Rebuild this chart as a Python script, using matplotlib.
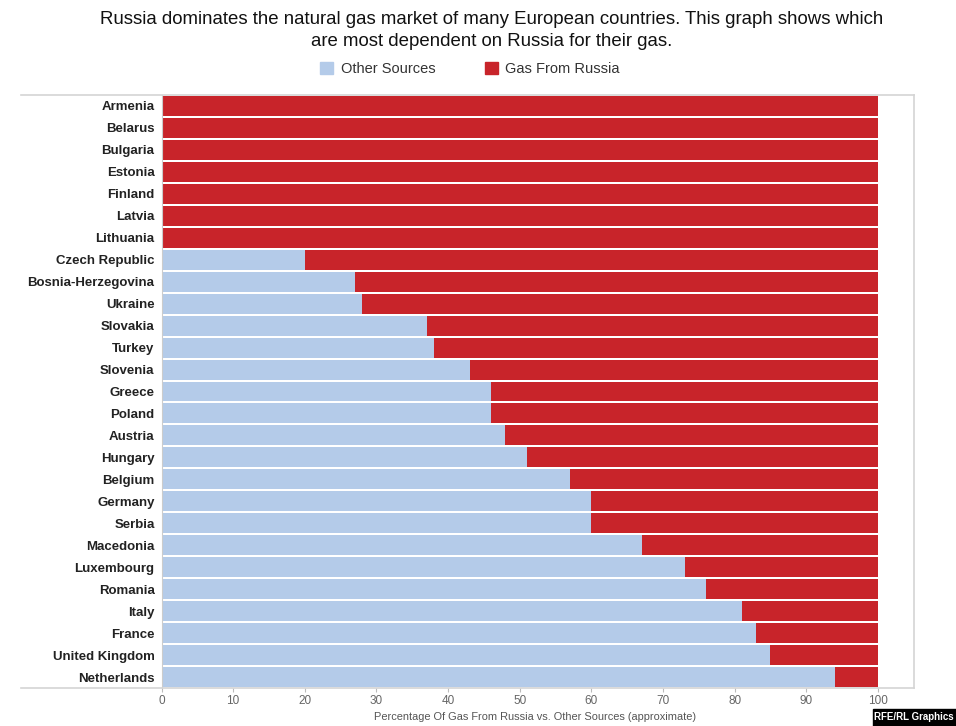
import matplotlib
matplotlib.use("Agg")
import matplotlib.pyplot as plt
from matplotlib.patches import Patch, Rectangle
from matplotlib.lines import Line2D

plt.rcParams['font.family'] = ['Liberation Sans', 'DejaVu Sans']

# data: share of gas from sources other than Russia (%), rest comes from Russia
countries = ["Armenia", "Belarus", "Bulgaria", "Estonia", "Finland", "Latvia",
             "Lithuania", "Czech Republic", "Bosnia-Herzegovina", "Ukraine",
             "Slovakia", "Turkey", "Slovenia", "Greece", "Poland", "Austria",
             "Hungary", "Belgium", "Germany", "Serbia", "Macedonia",
             "Luxembourg", "Romania", "Italy", "France", "United Kingdom",
             "Netherlands"]
other = [0, 0, 0, 0, 0, 0, 0, 20, 27, 28, 37, 38, 43, 46, 46, 48, 51, 57,
         60, 60, 67, 73, 76, 81, 83, 85, 94]
russia = [100 - v for v in other]

c_other = "#b4cbe9"
c_russia = "#c8242a"
W, H = 956, 726

fig = plt.figure(figsize=(W / 100, H / 100), dpi=100)
ax = fig.add_axes([161.5 / W, 1 - 688 / H, (914 - 161.5) / W, (688 - 95) / H])

y = list(range(len(countries)))
ax.barh(y, other, height=0.91, color=c_other, linewidth=0)
ax.barh(y, russia, left=other, height=0.91, color=c_russia, linewidth=0)

ax.set_ylim(len(countries) - 0.5, -0.5)
ax.set_xlim(0, 105.03)
ax.set_yticks(y)
ax.set_yticklabels(countries, fontsize=9.5, fontweight="bold", color="#222222")
ax.tick_params(axis="y", length=0, pad=5)
ax.set_xticks(range(0, 101, 10))
ax.tick_params(axis="x", length=3, width=0.8, color="#bbbbbb", labelsize=8.5,
               labelcolor="#666666", pad=2)
for lab in ax.get_xticklabels():
    lab.set_family(["Liberation Sans Narrow", "Liberation Sans"])

for s in ["top", "bottom"]:
    ax.spines[s].set_visible(False)
ax.spines["left"].set_color("#cccccc")
ax.spines["left"].set_linewidth(0.8)
ax.spines["right"].set_color("#d4d4d4")
ax.spines["right"].set_linewidth(1.2)

# frame lines extending under the labels
fig.add_artist(Line2D([21 / W, 914 / W], [1 - 95 / H, 1 - 95 / H],
                      color="#d4d4d4", lw=1.2))
fig.add_artist(Line2D([21 / W, 914 / W], [1 - 688 / H, 1 - 688 / H],
                      color="#d4d4d4", lw=1.2))

fig.text(492 / W, 1 - 20 / H,
         "Russia dominates the natural gas market of many European countries. This graph shows which",
         ha="center", va="center", fontsize=13.4, color="#111111")
fig.text(492 / W, 1 - 41 / H, "are most dependent on Russia for their gas.",
         ha="center", va="center", fontsize=13.4, color="#111111")

handles = [Patch(color=c_other, label="Other Sources"),
           Patch(color=c_russia, label="Gas From Russia")]
fig.legend(handles=handles, loc="center", bbox_to_anchor=(470 / W, 1 - 69 / H),
           ncol=2, frameon=False, fontsize=10.5, handlelength=0.9, handleheight=0.9,
           handletextpad=0.5, columnspacing=3.4, labelcolor="#333333")

fig.text(535 / W, 1 - 717 / H,
         "Percentage Of Gas From Russia vs. Other Sources (approximate)",
         ha="center", va="center", fontsize=7.9, color="#555555",
         family=["Liberation Sans Narrow", "Liberation Sans"])

fig.add_artist(Rectangle((873 / W, 0), (W - 873) / W, 17 / H,
                         transform=fig.transFigure, color="black"))
fig.text(914 / W, 8.5 / H, "RFE/RL Graphics", ha="center", va="center",
         fontsize=7, fontweight="bold", color="white",
         family=["Liberation Sans Narrow", "Liberation Sans"])

fig.savefig("out.png", dpi=100)
